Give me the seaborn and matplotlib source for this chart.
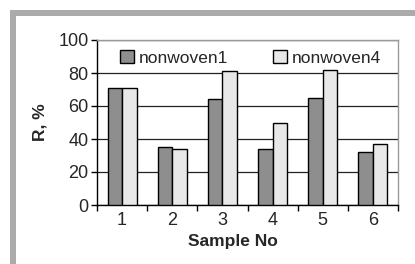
"""Reflectance of two nonwovens per sample, grouped bar chart."""

import matplotlib.pyplot as plt
import numpy as np
import pandas as pd
import seaborn as sns
from matplotlib.patches import Rectangle

SAMPLES = ["1", "2", "3", "4", "5", "6"]
NONWOVEN1 = [71, 35, 64, 34, 65, 32]
NONWOVEN4 = [71, 34, 81, 50, 82, 37]
SERIES = ["nonwoven1", "nonwoven4"]
Y_TICKS = [0, 20, 40, 60, 80, 100]

sns.set_theme(style="white")
plt.rcParams["font.family"] = ["Liberation Sans", "DejaVu Sans"]

df = pd.DataFrame(
    {
        "sample": SAMPLES * 2,
        "R": NONWOVEN1 + NONWOVEN4,
        "series": [SERIES[0]] * len(SAMPLES) + [SERIES[1]] * len(SAMPLES),
    }
)

fig = plt.figure(figsize=(4.15, 2.64), dpi=100)
fig.patch.set_facecolor("white")
# grey frame on top and left of the figure
fig.patches.append(Rectangle((10 / 415, 1 - 16 / 264), 1, 6 / 264, transform=fig.transFigure,
                             facecolor="#ababab", edgecolor="none", zorder=0))
fig.patches.append(Rectangle((10 / 415, 0), 6 / 415, 1 - 10 / 264, transform=fig.transFigure,
                             facecolor="#ababab", edgecolor="none", zorder=0))

ax = fig.add_axes([97 / 415, 59 / 264, 301 / 415, 165 / 264])
sns.barplot(
    data=df,
    x="sample",
    y="R",
    hue="series",
    palette=["#8e8e8e", "#e8e8e8"],
    width=0.58,
    gap=0,
    edgecolor="black",
    linewidth=1.0,
    ax=ax,
    zorder=3,
)

ax.set_ylim(0, 100)
ax.set_xlim(-0.5, len(SAMPLES) - 0.5)
ax.set_yticks(Y_TICKS)
ax.set_yticklabels([str(v) for v in Y_TICKS], fontsize=13)
ax.yaxis.grid(True, color="#222222", linewidth=0.9, zorder=0)
ax.set_axisbelow(True)

# ticks at category boundaries, labels at centres
ax.set_xticks(np.arange(len(SAMPLES)), labels=SAMPLES, minor=True)
ax.set_xticks(np.arange(len(SAMPLES) + 1) - 0.5, labels=[""] * (len(SAMPLES) + 1))
ax.tick_params(axis="x", which="minor", length=0, labelsize=13, pad=5)
ax.tick_params(axis="x", which="major", direction="out", length=4, width=1, color="black", bottom=True)
ax.tick_params(axis="y", direction="out", length=4, width=1, color="black", left=True, pad=2)

ax.set_xlabel("Sample No", fontsize=12.5, fontweight="bold")
ax.set_ylabel("R, %", fontsize=12.5, fontweight="bold")
ax.xaxis.set_label_coords(0.453, -0.175)
ax.yaxis.set_label_coords(-0.165, 0.5)

for side in ["left", "bottom"]:
    ax.spines[side].set_color("black")
    ax.spines[side].set_linewidth(1)
for side in ["top", "right"]:
    ax.spines[side].set_color("#9a9a9a")
    ax.spines[side].set_linewidth(1)

ax.legend(
    loc="upper center",
    bbox_to_anchor=(0.51, 1.035),
    ncol=2,
    frameon=False,
    fontsize=12.5,
    handlelength=0.8,
    handleheight=0.8,
    handletextpad=0.25,
    columnspacing=2.6,
)

fig.savefig("out.png", dpi=100)
